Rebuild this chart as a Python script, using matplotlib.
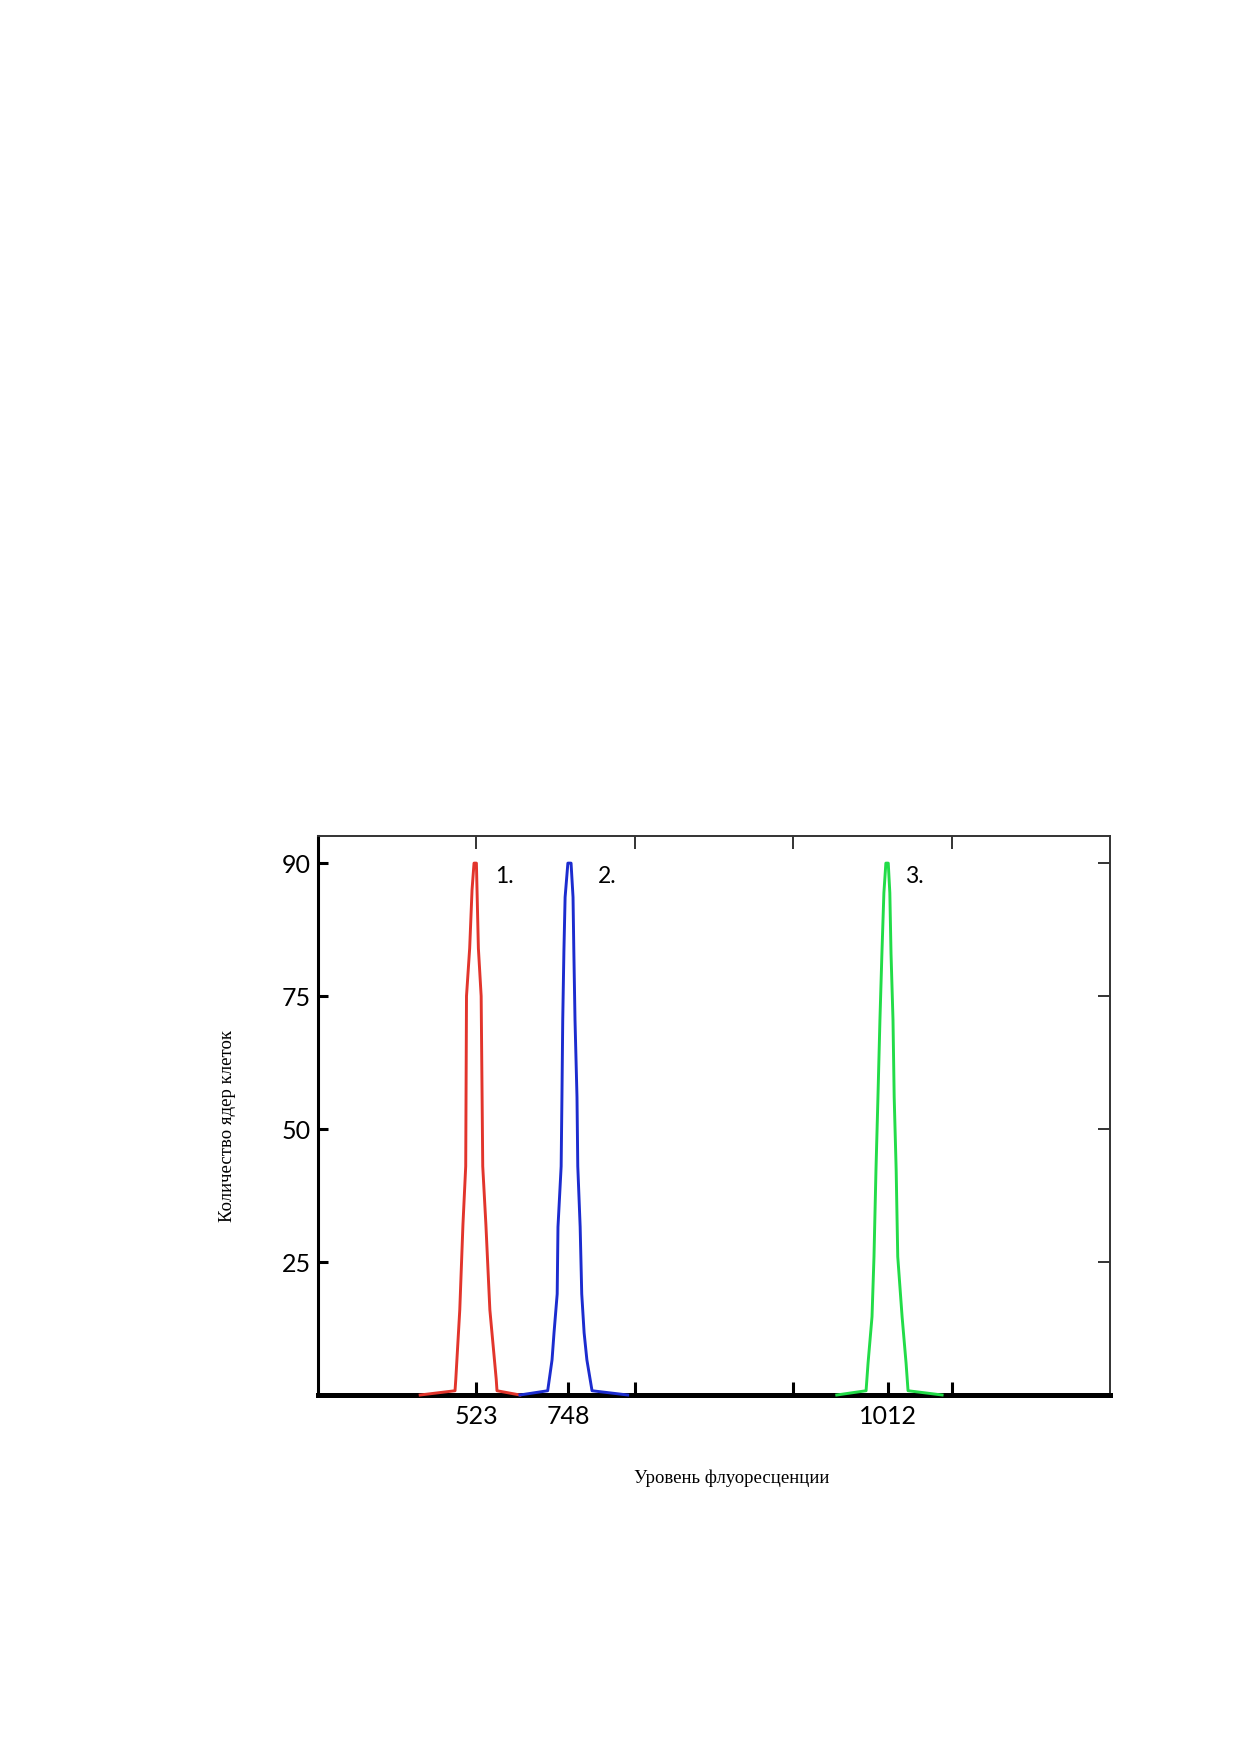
import numpy as np
import matplotlib
matplotlib.use("Agg")
import matplotlib.pyplot as plt

# histogram outlines (channel units 0..1000, counts on tick scale)
red_x = [129, 173, 174, 179, 183, 186.5, 187.5, 191.5, 194.5, 197, 200, 202.5, 206, 208, 212, 217, 225, 226, 255]
red_y = [0, 0.8, 3, 16, 32, 43, 75, 84, 95, 100, 100, 84, 75, 43, 32, 16, 3, 0.8, 0]

blue_x = [255, 290, 295.5, 298, 302, 303, 307, 308, 309, 310.5, 312, 315.5, 319.5,
          322, 323, 324.5, 327, 328, 331, 333, 336, 339.5, 346, 391]
blue_y = [0, 0.8, 6.6, 11.7, 19, 31.6, 43, 56, 70.5, 83.6, 93.6, 100, 100,
          93.6, 83.6, 70.5, 56, 43, 31.6, 19, 11.7, 6.6, 0.8, 0]

green_x = [655, 692, 694.5, 699.5, 702, 704.5, 707, 709.5, 712, 714.5, 717, 720,
           722, 723.5, 726, 727.5, 730, 732, 737.5, 742.5, 745, 788]
green_y = [0, 0.8, 6, 14.7, 26, 42.3, 56, 70.5, 83, 94.4, 100, 100,
           94.4, 83, 70.5, 56, 42.3, 26, 14.7, 6, 0.8, 0]

peak_names = ["1.", "2.", "3."]
peak_label_x = [223, 353, 741]

xtick_pos = [200, 316, 400, 600, 720, 800]
xtick_lab = ["523", "748", "", "", "1012", ""]
xtop_pos = [200, 400, 600, 800]
ytick_pos = [25, 50, 75, 100]
ytick_lab = ["25", "50", "75", "90"]

fig = plt.figure(figsize=(12.39, 17.52), dpi=100)
ax = fig.add_axes([0.25666, 0.20377, 0.63923, 0.31906])

ax.plot(red_x, red_y, color="#e2352c", lw=2.1, zorder=3, clip_on=False)
ax.plot(blue_x, blue_y, color="#1c2ccf", lw=2.1, zorder=3, clip_on=False)
ax.plot(green_x, green_y, color="#22dc48", lw=2.1, zorder=3, clip_on=False)

for name, px in zip(peak_names, peak_label_x):
    ax.text(px, 97.5, name, ha="left", va="center", fontsize=16.5, family="Lato")

ax.set_xlim(0, 1000)
ax.set_ylim(0, 105.1)

# bottom ticks (major, labelled) and top ticks (minor)
ax.xaxis.remove_overlapping_locs = False
ax.set_xticks(xtick_pos, xtick_lab)
ax.set_xticks(xtop_pos, minor=True)
ax.tick_params(axis="x", which="major", direction="in", length=9.5, width=2.2,
               bottom=True, top=False, labelsize=18, pad=7)
ax.tick_params(axis="x", which="minor", direction="in", length=9, width=1.4,
               bottom=False, top=True, color="#333333")

ax.yaxis.remove_overlapping_locs = False
ax.set_yticks(ytick_pos, ytick_lab)
ax.set_yticks(ytick_pos, minor=True)
ax.tick_params(axis="y", which="major", direction="in", length=7.5, width=2.2,
               left=True, right=False, labelsize=18, pad=5)
ax.tick_params(axis="y", which="minor", direction="in", length=8.5, width=1.4,
               left=False, right=True, color="#333333")

for lab in ax.get_xticklabels() + ax.get_yticklabels():
    lab.set_family("Lato")

ax.spines["left"].set_linewidth(2.2)
ax.spines["bottom"].set_linewidth(3.6)
ax.spines["top"].set_linewidth(1.4)
ax.spines["right"].set_linewidth(1.4)
ax.spines["top"].set_color("#333333")
ax.spines["right"].set_color("#333333")

fig.text(0.1835, 0.3573, "Количество ядер клеток", rotation=90, ha="center", va="center",
         family="Liberation Serif", fontsize=13.5)
fig.text(0.5908, 0.1560, "Уровень флуоресценции", ha="center", va="center",
         family="Liberation Serif", fontsize=13.5)

fig.savefig("out.png", dpi=100)
